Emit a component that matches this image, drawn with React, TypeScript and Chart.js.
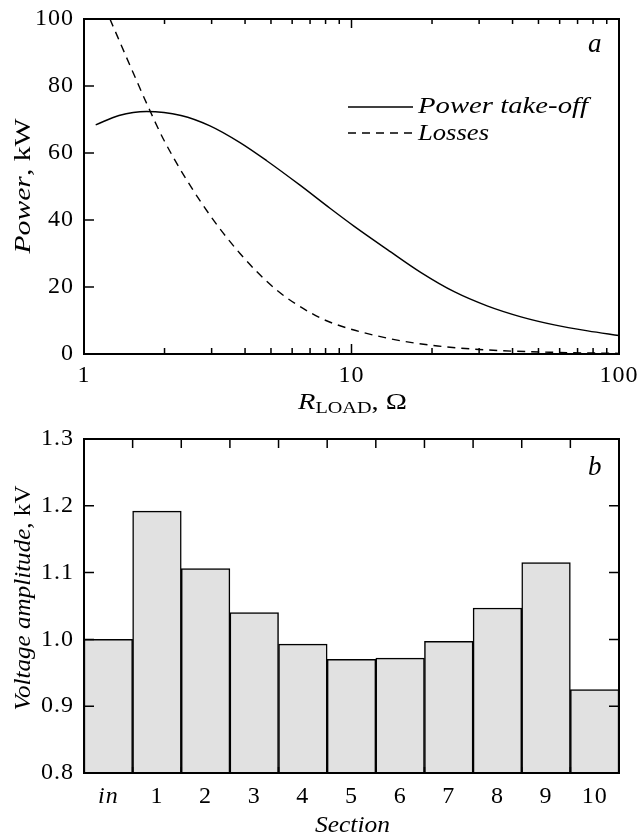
import React, { useEffect, useRef } from "react";
import { Chart, registerables } from "chart.js";

Chart.register(...registerables);

// ---------- Data ----------
const powerR = [1.106, 1.351, 1.715, 2.305, 2.958, 3.83, 4.82, 6.42, 8.31, 10.24, 13.66, 18.2, 24.2, 32.3, 43.0, 57.3, 76.4, 100];
const powerTakeOff = [68.4, 71.2, 72.4, 71.2, 68.1, 63.1, 57.7, 50.4, 43.5, 38.1, 31.1, 24.3, 18.6, 14.3, 11.1, 8.7, 6.9, 5.5];
const lossesR = [1.25, 1.53, 1.715, 2.0, 2.754, 3.83, 5.25, 7.1, 8.5, 13.66, 21.0, 32.3, 57.3, 100];
const losses = [100, 83.8, 74.8, 63.5, 45.0, 30.0, 19.1, 12.1, 9.2, 4.7, 2.4, 1.2, 0.5, 0.2];
const rTickLabels = [1, 10, 100];
const powerTicks = [0, 20, 40, 60, 80, 100];

const sections = ["in", "1", "2", "3", "4", "5", "6", "7", "8", "9", "10"];
const voltage = [1.0, 1.192, 1.106, 1.04, 0.993, 0.97, 0.972, 0.997, 1.047, 1.115, 0.925];
const voltageTicks = [0.8, 0.9, 1.0, 1.1, 1.2, 1.3];

const SERIF = '"Liberation Serif", "DejaVu Serif", "Times New Roman", serif';
const FS = 24;
const TICK_SPACING = "1px";

type Seg = { t: string; font: string; dy?: number };

// draws mixed-style text; optionally stretched horizontally to a target width
function drawRich(
  ctx: any,
  segs: Seg[],
  x: number,
  y: number,
  align: "center" | "left",
  target?: number
) {
  if ("letterSpacing" in ctx) ctx.letterSpacing = "0px";
  let natural = 0;
  const widths: number[] = [];
  for (const s of segs) {
    ctx.font = s.font;
    const w = ctx.measureText(s.t).width;
    widths.push(w);
    natural += w;
  }
  const sx = target ? Math.min(1.35, Math.max(0.8, target / natural)) : 1;
  const total = natural * sx;
  const startX = align === "center" ? x - total / 2 : x;
  ctx.save();
  ctx.translate(startX, y);
  ctx.scale(sx, 1);
  ctx.textAlign = "left";
  let cx = 0;
  segs.forEach((s, i) => {
    ctx.font = s.font;
    ctx.fillText(s.t, cx, s.dy || 0);
    cx += widths[i];
  });
  ctx.restore();
}

const it = (sz: number) => `italic ${sz}px ${SERIF}`;
const rm = (sz: number) => `${sz}px ${SERIF}`;

const noPad = (s: any) => {
  s.paddingTop = 0;
  s.paddingBottom = 0;
  s.paddingLeft = 0;
  s.paddingRight = 0;
};

const spacingPlugin = {
  id: "spacing",
  beforeDraw(chart: any) {
    if ("letterSpacing" in chart.ctx) chart.ctx.letterSpacing = TICK_SPACING;
  },
};

const topDecor = {
  id: "topDecor",
  afterDraw(chart: any) {
    const ctx: any = chart.ctx;
    const { left, right, top, bottom } = chart.chartArea;
    const xs = chart.scales.x;
    const ys = chart.scales.y;
    ctx.save();
    ctx.strokeStyle = "#000";
    ctx.fillStyle = "#000";
    ctx.lineWidth = 2;
    ctx.setLineDash([]);
    ctx.strokeRect(left, top, right - left, bottom - top);
    ctx.lineWidth = 1.5;
    for (const v of powerTicks) {
      if (v === 0 || v === 100) continue;
      const y = ys.getPixelForValue(v);
      ctx.beginPath();
      ctx.moveTo(left, y);
      ctx.lineTo(left + 10, y);
      ctx.stroke();
    }
    for (const d of [1, 10]) {
      for (let m = 1; m <= 9; m++) {
        const v = m * d;
        if (v <= 1 || v >= 100) continue;
        const x = xs.getPixelForValue(v);
        const len = m === 1 ? 9 : 5;
        ctx.beginPath();
        ctx.moveTo(x, bottom);
        ctx.lineTo(x, bottom - len - 1);
        ctx.moveTo(x, top);
        ctx.lineTo(x, top + len);
        ctx.stroke();
      }
    }
    // legend
    ctx.lineWidth = 1.4;
    ctx.beginPath();
    ctx.moveTo(348, 107);
    ctx.lineTo(413, 107);
    ctx.stroke();
    ctx.setLineDash([8, 6]);
    ctx.beginPath();
    ctx.moveTo(348, 133);
    ctx.lineTo(413, 133);
    ctx.stroke();
    ctx.setLineDash([]);
    ctx.textBaseline = "alphabetic";
    drawRich(ctx, [{ t: "Power take-off", font: it(FS) }], 418, 113, "left", 170);
    drawRich(ctx, [{ t: "Losses", font: it(FS) }], 418, 140, "left", 71);
    drawRich(ctx, [{ t: "a", font: it(27) }], 588, 52, "left");
    drawRich(
      ctx,
      [
        { t: "R", font: it(FS) },
        { t: "LOAD", font: rm(17), dy: 4 },
        { t: ", \u03A9", font: rm(FS) },
      ],
      352.5,
      409,
      "center",
      109
    );
    ctx.translate(30, 186);
    ctx.rotate(-Math.PI / 2);
    drawRich(
      ctx,
      [
        { t: "Power", font: it(FS) },
        { t: ", kW", font: rm(FS) },
      ],
      0,
      0,
      "center",
      135
    );
    ctx.restore();
  },
};

const bottomDecor = {
  id: "bottomDecor",
  afterDraw(chart: any) {
    const ctx: any = chart.ctx;
    const { left, right, top, bottom } = chart.chartArea;
    const ys = chart.scales.y;
    ctx.save();
    ctx.strokeStyle = "#000";
    ctx.fillStyle = "#000";
    ctx.lineWidth = 2;
    ctx.strokeRect(left, top, right - left, bottom - top);
    ctx.lineWidth = 1.5;
    for (const v of voltageTicks) {
      if (v === 0.8 || v === 1.3) continue;
      const y = ys.getPixelForValue(v);
      ctx.beginPath();
      ctx.moveTo(left, y);
      ctx.lineTo(left + 10, y);
      ctx.moveTo(right, y);
      ctx.lineTo(right - 10, y);
      ctx.stroke();
    }
    const n = sections.length;
    const w = (right - left) / n;
    for (let i = 1; i < n; i++) {
      const x = left + i * w;
      ctx.beginPath();
      ctx.moveTo(x, top);
      ctx.lineTo(x, top + 9);
      ctx.moveTo(x, bottom);
      ctx.lineTo(x, bottom - 6);
      ctx.stroke();
    }
    ctx.textBaseline = "alphabetic";
    drawRich(ctx, [{ t: "b", font: it(27) }], 588, 55, "left");
    drawRich(ctx, [{ t: "Section", font: it(FS) }], 352.5, 412, "center", 75);
    ctx.translate(29.5, 178);
    ctx.rotate(-Math.PI / 2);
    drawRich(
      ctx,
      [
        { t: "Voltage amplitude", font: it(FS) },
        { t: ", kV", font: rm(FS) },
      ],
      0,
      0,
      "center",
      225
    );
    ctx.restore();
  },
};

export default function App() {
  const topRef = useRef<HTMLCanvasElement>(null);
  const botRef = useRef<HTMLCanvasElement>(null);

  useEffect(() => {
    const tickFont = { family: SERIF, size: FS };
    const top = new Chart(topRef.current as HTMLCanvasElement, {
      type: "scatter",
      data: {
        datasets: [
          {
            data: powerR.map((r, i) => ({ x: r, y: powerTakeOff[i] })),
            showLine: true,
            borderColor: "#000",
            borderWidth: 1.4,
            pointRadius: 0,
            cubicInterpolationMode: "monotone",
          },
          {
            data: lossesR.map((r, i) => ({ x: r, y: losses[i] })),
            showLine: true,
            borderColor: "#000",
            borderWidth: 1.4,
            borderDash: [8, 6],
            pointRadius: 0,
            cubicInterpolationMode: "monotone",
          },
        ],
      } as any,
      options: {
        responsive: false,
        animation: false,
        events: [],
        devicePixelRatio: 1,
        layout: { autoPadding: false, padding: { top: 19, right: 23, left: 0, bottom: 0 } },
        plugins: { legend: { display: false }, tooltip: { enabled: false } },
        scales: {
          x: {
            type: "logarithmic",
            min: 1,
            max: 100,
            afterBuildTicks: (s: any) => {
              s.ticks = rTickLabels.map((v) => ({ value: v }));
            },
            afterFit: (s: any) => {
              s.height = 66;
              noPad(s);
            },
            grid: { display: false, drawTicks: false },
            border: { display: false },
            ticks: {
              font: tickFont,
              color: "#000",
              padding: 7,
              maxRotation: 0,
              autoSkip: false,
              callback: (v: any) => String(v),
            },
          },
          y: {
            min: 0,
            max: 100,
            afterBuildTicks: (s: any) => {
              s.ticks = powerTicks.map((v) => ({ value: v }));
            },
            afterFit: (s: any) => {
              s.width = 84;
              noPad(s);
            },
            grid: { display: false, drawTicks: false },
            border: { display: false },
            ticks: { font: tickFont, color: "#000", padding: 10, callback: (v: any) => String(v) },
          },
        },
      } as any,
      plugins: [spacingPlugin, topDecor],
    });

    const bot = new Chart(botRef.current as HTMLCanvasElement, {
      type: "bar",
      data: {
        labels: sections,
        datasets: [
          {
            data: voltage,
            backgroundColor: "#e1e1e1",
            borderColor: "#000",
            borderWidth: 1.5,
            barPercentage: 1,
            categoryPercentage: 1,
          },
        ],
      },
      options: {
        responsive: false,
        animation: false,
        events: [],
        devicePixelRatio: 1,
        layout: { autoPadding: false, padding: { top: 19, right: 23, left: 0, bottom: 0 } },
        plugins: { legend: { display: false }, tooltip: { enabled: false } },
        scales: {
          x: {
            afterFit: (s: any) => {
              s.height = 64;
              noPad(s);
            },
            grid: { display: false, drawTicks: false },
            border: { display: false },
            ticks: {
              color: "#000",
              padding: 9,
              maxRotation: 0,
              autoSkip: false,
              font: (c: any) => ({ family: SERIF, size: FS, style: c.index === 0 ? "italic" : "normal" }),
            },
          },
          y: {
            min: 0.8,
            max: 1.3,
            afterBuildTicks: (s: any) => {
              s.ticks = voltageTicks.map((v) => ({ value: v }));
            },
            afterFit: (s: any) => {
              s.width = 84;
              noPad(s);
            },
            grid: { display: false, drawTicks: false },
            border: { display: false },
            ticks: { font: tickFont, color: "#000", padding: 10, callback: (v: any) => Number(v).toFixed(1) },
          },
        },
      } as any,
      plugins: [spacingPlugin, bottomDecor],
    });

    return () => {
      top.destroy();
      bot.destroy();
    };
  }, []);

  return (
    <div style={{ position: "absolute", left: 0, top: 0, width: 642, height: 837, background: "#fff" }}>
      <canvas
        ref={topRef}
        width={642}
        height={420}
        style={{ position: "absolute", left: 0, top: 0, width: 642, height: 420, display: "block" }}
      />
      <canvas
        ref={botRef}
        width={642}
        height={417}
        style={{ position: "absolute", left: 0, top: 420, width: 642, height: 417, display: "block" }}
      />
    </div>
  );
}
